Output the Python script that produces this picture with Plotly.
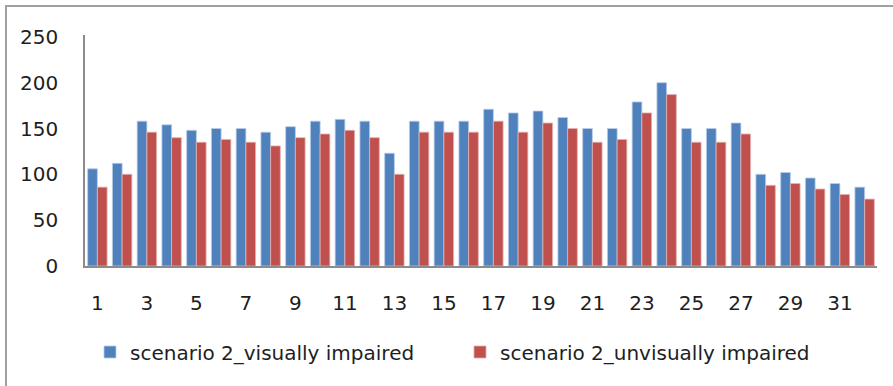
import plotly.graph_objects as go

# Scenario 2 results per case (1..32)
cases = list(range(1, 33))
visually_impaired = [106, 112, 158, 154, 148, 150, 150, 146, 152, 158,
                     160, 158, 123, 158, 158, 158, 171, 167, 169, 162,
                     150, 150, 179, 200, 150, 150, 156, 100, 102, 96,
                     90, 86]
unvisually_impaired = [86, 100, 146, 140, 135, 138, 135, 131, 140, 144,
                       148, 140, 100, 146, 146, 146, 158, 146, 156, 150,
                       135, 138, 167, 187, 135, 135, 144, 88, 90, 84,
                       78, 73]
x_tick_labels = [str(c) for c in cases if c % 2 == 1]
y_ticks = [0, 50, 100, 150, 200, 250]

BLUE = "#4f81bd"
RED = "#c0504d"
TEXT = "#1e1e1e"
AXIS = "#8c8c8c"
FONT = "DejaVu Sans"
FS = 20

fig = go.Figure()
fig.add_trace(go.Bar(
    x=cases, y=visually_impaired, name="scenario 2_visually impaired",
    marker=dict(color=BLUE, line=dict(color="#b9cde6", width=0.8)),
))
fig.add_trace(go.Bar(
    x=cases, y=unvisually_impaired, name="scenario 2_unvisually impaired",
    marker=dict(color=RED, line=dict(color="#e3b1b0", width=0.8)),
))

W, H = 893, 386
L, R, T, B = 85, 16, 35, 120
pw, ph = W - L - R, H - T - B


def px_x(p):
    return (p - L) / pw


def px_y(p):
    return (H - B - p) / ph


fig.update_layout(
    width=W, height=H,
    margin=dict(l=L, r=R, t=T, b=B, pad=0),
    paper_bgcolor="white", plot_bgcolor="white",
    barmode="group", bargap=0.216, bargroupgap=0,
    font=dict(family=FONT, size=FS, color=TEXT),
    showlegend=True,
    legend=dict(
        orientation="h",
        x=px_x(460), xanchor="center",
        y=px_y(352), yanchor="middle",
        font=dict(family=FONT, size=FS, color=TEXT),
        entrywidth=325, entrywidthmode="pixels",
        bgcolor="rgba(0,0,0,0)",
        traceorder="normal",
    ),
    xaxis=dict(
        range=[0.5, 32.5],
        tickmode="array",
        tickvals=[c for c in cases if c % 2 == 1],
        ticktext=x_tick_labels,
        ticks="",
        showgrid=False, zeroline=False,
        showline=True, linecolor=AXIS, linewidth=1.5,
        ticklabelstandoff=18,
        tickfont=dict(family=FONT, size=FS, color=TEXT),
    ),
    yaxis=dict(
        range=[0, 252],
        tickmode="array",
        tickvals=y_ticks,
        ticks="",
        showgrid=False, zeroline=False,
        showline=True, linecolor=AXIS, linewidth=1.5,
        ticklabelstandoff=21,
        tickfont=dict(family=FONT, size=FS, color=TEXT),
    ),
    shapes=[
        # chart frame
        dict(type="rect", xref="paper", yref="paper",
             x0=px_x(6), x1=px_x(905), y0=px_y(400), y1=px_y(6),
             line=dict(color="#a0a0a0", width=2), fillcolor="rgba(0,0,0,0)",
             layer="below"),
    ],
)

fig.write_html("out.html")
